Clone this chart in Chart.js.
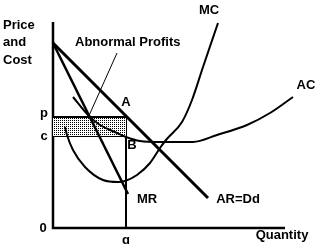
<!DOCTYPE html>
<html>
<head>
<meta charset="utf-8">
<script src="https://cdn.jsdelivr.net/npm/chart.js@4"></script>
<style>
  body { margin: 0; background: #fff; }
  #wrap { width: 319px; height: 244px; position: relative; }
</style>
</head>
<body>
<div id="wrap"><canvas id="chart"></canvas></div>
<script>
// courbes (x = quantite, y = prix/cout)
const arX = [0, 155]
const arY = [185, 30]
const mrX = [0, 75]
const mrY = [185, 34]
const mcX = [12, 14, 20, 32, 50, 65, 72, 84, 97, 107, 113, 129, 139, 150, 165]
const mcY = [101, 93, 78, 61, 48, 46, 47, 53, 65, 80, 88, 106, 128, 161, 205]
const acX = [20, 35, 47, 62, 73, 87, 107, 140, 164, 194, 217, 240]
const acY = [131, 113, 103, 96, 91, 87, 86, 86, 93, 103, 115, 131]

// niveaux
const p = 111
const c = 92
const q = 73
const axisX = 232
const axisY = 206

function pts(xs, ys) {
    return xs.map((x, i) => ({ x: x, y: ys[i] }))
}

// motif pointille pour les profits anormaux
function dots() {
    const cv = document.createElement('canvas')
    cv.width = 2
    cv.height = 2
    const g = cv.getContext('2d')
    g.fillStyle = '#fff'
    g.fillRect(0, 0, 2, 2)
    g.fillStyle = '#000'
    g.fillRect(0, 0, 1, 1)
    return g.createPattern(cv, 'repeat')
}

// textes places en coordonnees de donnees
const labels = [
    { t: 'Price', x: -50, y: 203, a: 'left' },
    { t: 'and', x: -50, y: 186, a: 'left' },
    { t: 'Cost', x: -50, y: 168, a: 'left' },
    { t: 'Abnormal Profits', x: 22, y: 186, a: 'left' },
    { t: 'MC', x: 156, y: 218, a: 'center' },
    { t: 'AC', x: 253, y: 143, a: 'center' },
    { t: 'A', x: 73, y: 126, a: 'center' },
    { t: 'B', x: 79, y: 83, a: 'center' },
    { t: 'p', x: -9, y: p + 4, a: 'center' },
    { t: 'c', x: -9, y: c, a: 'center' },
    { t: 'MR', x: 94, y: 29, a: 'center' },
    { t: 'AR=Dd', x: 185, y: 29, a: 'center' },
    { t: '0', x: -10, y: 0, a: 'center' },
    { t: 'q', x: q, y: -12, a: 'center' },
    { t: 'Quantity', x: 229, y: -7, a: 'center' }
]

const textPlugin = {
    id: 'textes',
    afterDatasetsDraw(chart) {
        const ctx = chart.ctx
        const sx = chart.scales.x
        const sy = chart.scales.y
        ctx.save()
        ctx.fillStyle = '#000'
        ctx.font = 'bold 13px "Liberation Sans", Arial, sans-serif'
        ctx.textBaseline = 'middle'
        labels.forEach(l => {
            ctx.textAlign = l.a
            ctx.fillText(l.t, sx.getPixelForValue(l.x), sy.getPixelForValue(l.y))
        })
        ctx.restore()
    }
}

function line(data, width, extra) {
    return Object.assign({
        data: data,
        borderColor: '#000',
        borderWidth: width,
        pointRadius: 0,
        fill: false,
        showLine: true,
        clip: false
    }, extra || {})
}

const ctx = document.getElementById('chart')
const chart = new Chart(ctx, {
    type: 'scatter',
    data: {
        datasets: [
            line(pts(arX, arY), 3),
            line(pts(mrX, mrY), 2.5),
            line(pts(mcX, mcY), 2, { tension: 0.4, cubicInterpolationMode: 'monotone' }),
            line(pts(acX, acY), 2, { tension: 0.4, cubicInterpolationMode: 'monotone' }),
            line([{ x: 0, y: p }, { x: q, y: p }], 2, { fill: { value: c }, backgroundColor: dots() }),
            line([{ x: 0, y: c }, { x: q, y: c }], 2),
            line([{ x: q, y: p }, { x: q, y: 0 }], 2),
            line([{ x: 64, y: 175 }, { x: 30, y: 99 }], 1),
            line([{ x: 0, y: axisY }, { x: 0, y: 0 }, { x: axisX, y: 0 }], 2.5)
        ]
    },
    options: {
        responsive: true,
        maintainAspectRatio: false,
        animation: false,
        layout: { padding: { left: 53, bottom: 16, top: 0, right: 0 } },
        scales: {
            x: { type: 'linear', min: 0, max: 266, display: false },
            y: { type: 'linear', min: 0, max: 228, display: false }
        },
        plugins: {
            legend: { display: false },
            tooltip: { enabled: false }
        }
    },
    plugins: [textPlugin]
})
</script>
</body>
</html>
